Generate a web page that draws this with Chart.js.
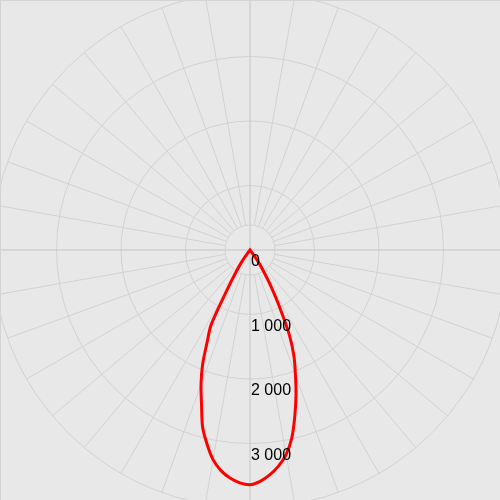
<!DOCTYPE html>
<html>
<head>
<meta charset="utf-8">
<script src="https://cdn.jsdelivr.net/npm/chart.js@4/dist/chart.umd.min.js"></script>
<style>
  html, body { margin: 0; padding: 0; background: #e8e8e8; overflow: hidden; }
  #page { width: 500px; height: 500px; position: relative; overflow: hidden; }
  #wrap { width: 516px; height: 516px; position: absolute; left: -8px; top: -8px; }
  #edge { position: absolute; left: 0; top: 0; width: 500px; height: 500px; box-sizing: border-box;
          border-top: 1px solid #d4d4d4; border-left: 1px solid #d4d4d4; pointer-events: none; }
</style>
</head>
<body>
<div id="page">
  <div id="wrap"><canvas id="myChart"></canvas></div>
  <div id="edge"></div>
</div>
<script>
// angles around the diagram, 0 = nadir, going clockwise (towards the left)
var stepDeg = 2.5
var angleLabels = []
for (var a = 0; a < 360; a += stepDeg) angleLabels.push(a)

// gamma angles from nadir where the curve is not zero
var gammaAngles = [0, 2.5, 5, 7.5, 10, 12.5, 15, 17.5, 20, 22.5, 25, 27.5, 30, 32.5, 35, 37.5, 40]
// intensity, left half of the curve
var leftValues  = [3640, 3615, 3550, 3450, 3300, 3080, 2840, 2500, 2220, 1920, 1570, 1300, 700, 400, 220, 60, 0]
// right half of the curve
var rightValues = [3640, 3590, 3500, 3380, 3220, 2990, 2680, 2370, 2060, 1780, 1430, 980, 650, 390, 220, 60, 0]

// radial scale ticks
var tickValues = [0, 1000, 2000, 3000, 4000]
var tickLabels = ['0', '1 000', '2 000', '3 000', '']

var bgColor = '#e8e8e8'
var gridColor = '#d2d2d2'
var axisColor = '#c4c4c4'

// value for every angle label
var curve = angleLabels.map(function (a) {
    var i = -1
    if (a <= 90) {
        i = gammaAngles.indexOf(a)
        return i >= 0 ? leftValues[i] : 0
    }
    if (a >= 270) {
        i = gammaAngles.indexOf(360 - a)
        return i >= 0 ? rightValues[i] : 0
    }
    return 0
})

// small hole in the middle, only the cross goes through it
const centerHole = {
    id: 'centerHole',
    beforeDatasetsDraw(chart) {
        var s = chart.scales.r
        var ctx = chart.ctx
        var rad = s.drawingArea * 0.097
        ctx.save()
        ctx.beginPath()
        ctx.arc(s.xCenter, s.yCenter, rad, 0, Math.PI * 2)
        ctx.fillStyle = bgColor
        ctx.fill()
        ctx.strokeStyle = gridColor
        ctx.lineWidth = 1
        ctx.stroke()
        ctx.strokeStyle = axisColor
        ctx.beginPath()
        ctx.moveTo(s.xCenter - rad, s.yCenter)
        ctx.lineTo(s.xCenter + rad, s.yCenter)
        ctx.moveTo(s.xCenter, s.yCenter - rad)
        ctx.lineTo(s.xCenter, s.yCenter + rad)
        ctx.stroke()
        ctx.restore()
    }
}

// tick labels go downwards, under each circle
const downLabels = {
    id: 'downLabels',
    afterDatasetsDraw(chart) {
        var s = chart.scales.r
        var ctx = chart.ctx
        ctx.save()
        ctx.font = '16px "Liberation Sans", Arial, sans-serif'
        ctx.fillStyle = '#000'
        ctx.textAlign = 'left'
        ctx.textBaseline = 'middle'
        tickValues.forEach(function (v, i) {
            var d = s.getDistanceFromCenterForValue(v)
            ctx.fillText(tickLabels[i], s.xCenter + 1, s.yCenter + d + 12)
        })
        ctx.restore()
    }
}

var ctx = document.getElementById('myChart').getContext('2d')
var chart = new Chart(ctx, {
    type: 'radar',
    data: {
        labels: angleLabels,
        datasets: [
            {
                label: 'I',
                data: curve,
                borderColor: '#ff0000',
                borderWidth: 3,
                fill: false,
                pointRadius: 0,
                pointHoverRadius: 0,
                tension: 0.3
            }
        ]
    },
    options: {
        responsive: true,
        maintainAspectRatio: false,
        animation: false,
        plugins: { legend: { display: false }, tooltip: { enabled: false } },
        scales: {
            r: {
                min: 0,
                max: 4000,
                startAngle: 180,
                afterBuildTicks: function (scale) {
                    scale.ticks = tickValues.map(function (v) { return { value: v } })
                },
                grid: { circular: true, color: gridColor, lineWidth: 1 },
                angleLines: {
                    color: function (c) {
                        if (c.index % 36 === 0) return axisColor
                        return c.index % 4 === 0 ? gridColor : null
                    },
                    lineWidth: function (c) { return c.index % 4 === 0 ? 1 : 0 }
                },
                pointLabels: { display: false },
                ticks: { display: false }
            }
        }
    },
    plugins: [centerHole, downLabels]
})
</script>
</body>
</html>
